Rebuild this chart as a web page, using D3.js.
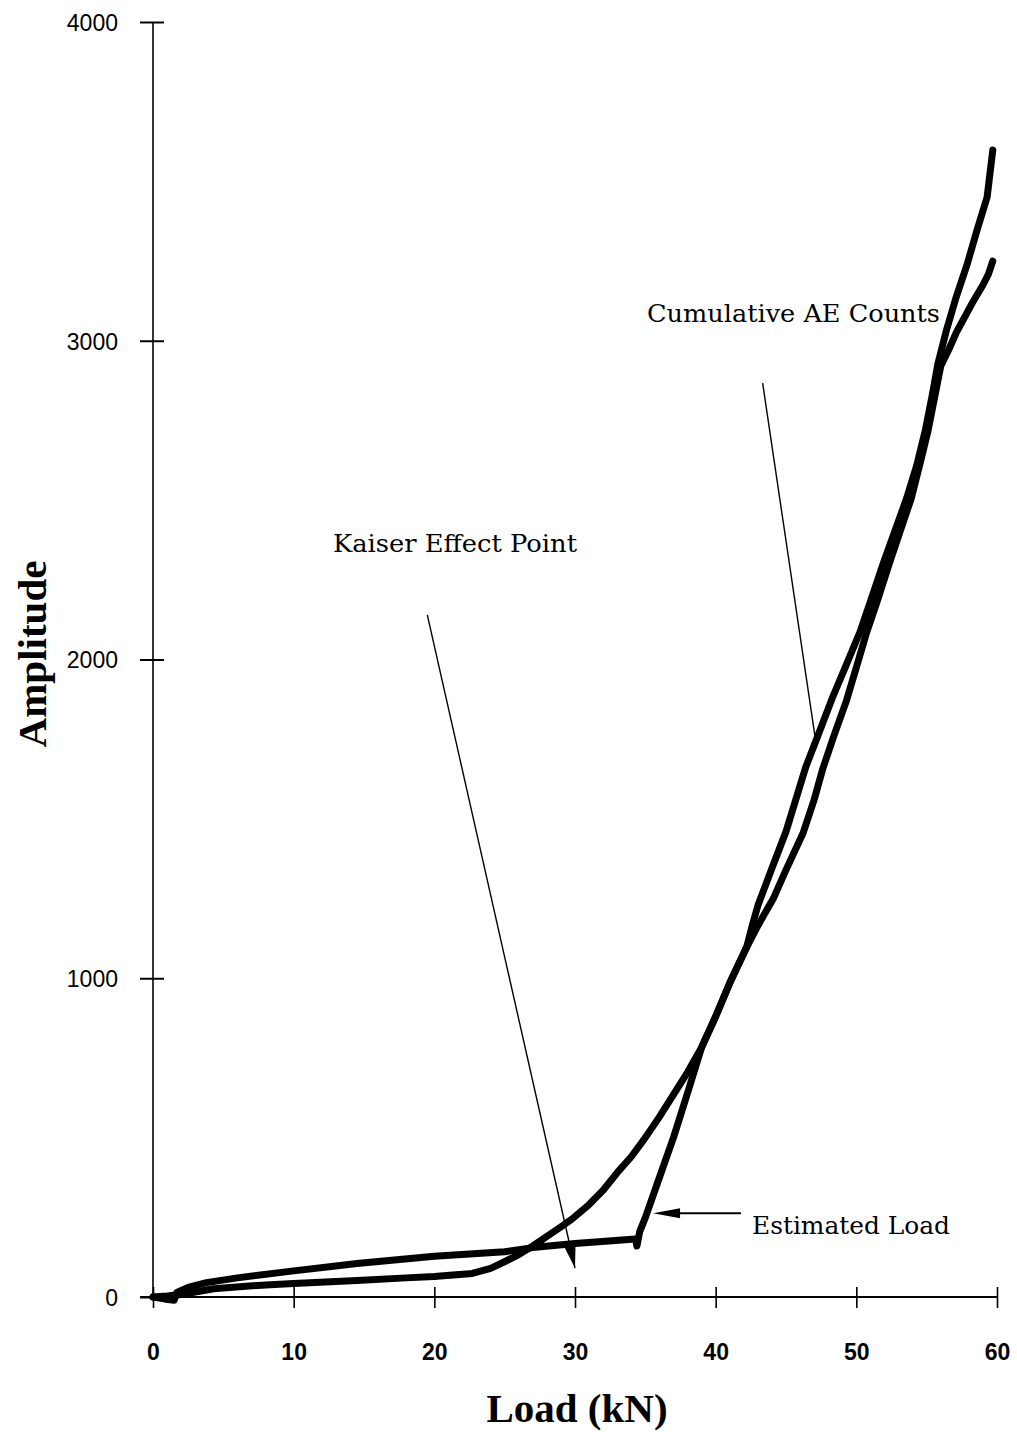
<!DOCTYPE html>
<html>
<head>
<meta charset="utf-8">
<script src="https://cdn.jsdelivr.net/npm/d3@7"></script>
<style>
  body { margin: 0; background: #fff; }
  .curve { fill: none; stroke: #000; stroke-width: 7; stroke-linejoin: round; stroke-linecap: round; }
  .tick text { fill: #000; }
</style>
</head>
<body>
<div id="chart"></div>
<script>
// data
var xTicks = [0, 10, 20, 30, 40, 50, 60];
var yTicks = [0, 1000, 2000, 3000, 4000];

// curve that starts low and rises smoothly
var loadA = [0, 1, 2, 4.3, 8, 10, 14.5, 18, 20, 22.7, 24, 25.1, 26, 27, 28, 29, 29.8, 31, 32, 33, 34, 35, 36, 37, 38, 39,
             40, 41, 42.2, 43, 44.1, 45, 46.2, 47, 47.6, 48.4, 49.3, 50, 50.7, 51.5, 52.3, 53.1, 53.9, 54.5, 55.1, 55.6,
             56, 56.6, 57.1, 58.2, 59, 59.4, 59.7];
var ampA  = [0, 3, 8, 26, 38, 42, 52, 60, 64, 74, 90, 113, 133, 160, 190, 220, 245, 290, 335, 390, 440, 500, 565, 635, 705, 783,
             880, 985, 1097, 1165, 1250, 1340, 1454, 1560, 1655, 1760, 1871, 1975, 2080, 2185, 2295, 2400, 2505, 2610, 2718, 2830,
             2920, 2975, 3025, 3115, 3175, 3210, 3250];

// curve with the flat part and the jump near 35 kN
var loadB = [0, 0.8, 1.5, 1.7, 2.5, 3.8, 6, 10, 14.5, 20, 25, 27, 30, 34.3, 34.4, 34.6, 35, 36, 37, 38, 39,
             40, 41, 42.2, 42.6, 43, 44, 45, 46.4, 47.3, 48.3, 49.3, 50.3, 51.1, 51.9, 52.8, 53.6, 54.3, 54.9, 55.4,
             55.8, 56.4, 57.1, 57.9, 58.6, 59.3, 59.7];
var ampB  = [0, -6, -10, 14, 30, 45, 60, 82, 105, 128, 142, 155, 168, 182, 160, 205, 249, 375, 500, 640, 783,
             880, 985, 1097, 1165, 1228, 1345, 1460, 1662, 1765, 1880, 1985, 2091, 2195, 2300, 2410, 2509, 2610, 2718, 2830,
             2928, 3032, 3137, 3243, 3350, 3451, 3598];

var W = 1017, H = 1432;

var svg = d3.select("#chart")
  .append("svg")
    .attr("width", W)
    .attr("height", H);

var x = d3.scaleLinear().domain([0, 60]).range([153, 997]);
var y = d3.scaleLinear().domain([0, 4000]).range([1297, 22]);

// X axis
var xAxis = svg.append("g")
  .attr("transform", "translate(0," + y(0) + ")")
  .call(d3.axisBottom(x).tickValues(xTicks).tickSizeOuter(0).tickSize(11));
xAxis.select(".domain").remove();
xAxis.selectAll(".tick line").attr("y1", -10).attr("y2", 11).attr("stroke-width", 1.6);
xAxis.selectAll(".tick text")
  .attr("y", 63).attr("dy", null)
  .style("font-family", "'Liberation Sans', Arial, sans-serif")
  .style("font-weight", "bold")
  .style("font-size", "23px");
xAxis.append("line")
  .attr("x1", x(-0.9)).attr("x2", x(60))
  .attr("stroke", "#000").attr("stroke-width", 2);

// Y axis
var yAxis = svg.append("g")
  .attr("transform", "translate(" + x(0) + ",0)")
  .call(d3.axisLeft(y).tickValues(yTicks).tickFormat(d3.format("d")).tickSizeOuter(0).tickSize(12));
yAxis.select(".domain").remove();
yAxis.selectAll(".tick line").attr("x1", -13).attr("x2", 11).attr("stroke-width", 2);
yAxis.selectAll(".tick text")
  .attr("x", -35).attr("dy", "0.36em")
  .style("font-family", "'Liberation Sans', Arial, sans-serif")
  .style("font-size", "23px");
yAxis.append("line")
  .attr("y1", y(4000)).attr("y2", y(0))
  .attr("stroke", "#000").attr("stroke-width", 1.6);

// axis titles
svg.append("text")
  .attr("x", 577).attr("y", 1422)
  .attr("text-anchor", "middle")
  .style("font-family", "'Liberation Serif', 'Times New Roman', serif")
  .style("font-weight", "bold")
  .style("font-size", "41px")
  .text("Load (kN)");
svg.append("text")
  .attr("transform", "translate(46,654) rotate(-90)")
  .attr("text-anchor", "middle")
  .style("font-family", "'Liberation Serif', 'Times New Roman', serif")
  .style("font-weight", "bold")
  .style("font-size", "41px")
  .text("Amplitude");

// curves
var line = d3.line()
  .x(function(d) { return x(d[0]); })
  .y(function(d) { return y(d[1]); });

var seriesA = loadA.map(function(v, i) { return [v, ampA[i]]; });
var seriesB = loadB.map(function(v, i) { return [v, ampB[i]]; });

// Kaiser leader sits behind the curves
var kFrom = [19.5, 2140], kTo = [30.0, 91];
svg.append("line")
  .attr("x1", x(kFrom[0])).attr("y1", y(kFrom[1]))
  .attr("x2", x(kTo[0])).attr("y2", y(kTo[1]))
  .attr("stroke", "#000").attr("stroke-width", 1.4);
var kdx = x(kTo[0]) - x(kFrom[0]), kdy = y(kTo[1]) - y(kFrom[1]);
var klen = Math.sqrt(kdx * kdx + kdy * kdy), kux = kdx / klen, kuy = kdy / klen;
var ktx = x(kTo[0]), kty = y(kTo[1]);
svg.append("path")
  .attr("d", "M" + ktx + "," + kty +
    "L" + (ktx - kux * 24 - kuy * 6) + "," + (kty - kuy * 24 + kux * 6) +
    "L" + (ktx - kux * 24 + kuy * 6) + "," + (kty - kuy * 24 - kux * 6) + "Z")
  .attr("fill", "#000");

svg.append("path").datum(seriesA).attr("class", "curve").attr("d", line);
svg.append("path").datum(seriesB).attr("class", "curve").attr("d", line);

// cumulative AE leader
svg.append("line")
  .attr("x1", x(43.34)).attr("y1", y(2867))
  .attr("x2", x(47.15)).attr("y2", y(1732))
  .attr("stroke", "#000").attr("stroke-width", 1.4);

// estimated load arrow
var eTip = [35.55, 263], eEnd = [41.8, 263];
svg.append("line")
  .attr("x1", x(eTip[0]) + 20).attr("y1", y(eTip[1]))
  .attr("x2", x(eEnd[0])).attr("y2", y(eEnd[1]))
  .attr("stroke", "#000").attr("stroke-width", 2);
svg.append("path")
  .attr("d", "M" + x(eTip[0]) + "," + y(eTip[1]) +
    "L" + (x(eTip[0]) + 27) + "," + (y(eTip[1]) - 5) +
    "L" + (x(eTip[0]) + 27) + "," + (y(eTip[1]) + 5) + "Z")
  .attr("fill", "#000");

// annotation texts
var labelFont = "'DejaVu Serif', 'Liberation Serif', serif";
svg.append("text").attr("x", 647).attr("y", 322)
  .style("font-family", labelFont).style("font-size", "24px")
  .attr("textLength", 293).attr("lengthAdjust", "spacingAndGlyphs")
  .text("Cumulative AE Counts");
svg.append("text").attr("x", 333).attr("y", 552)
  .style("font-family", labelFont).style("font-size", "24px")
  .attr("textLength", 244).attr("lengthAdjust", "spacingAndGlyphs")
  .text("Kaiser Effect Point");
svg.append("text").attr("x", 752).attr("y", 1234)
  .style("font-family", labelFont).style("font-size", "24px")
  .attr("textLength", 198).attr("lengthAdjust", "spacingAndGlyphs")
  .text("Estimated Load");
</script>
</body>
</html>
